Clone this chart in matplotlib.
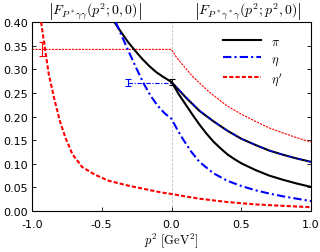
import matplotlib
matplotlib.use("Agg")
import matplotlib.pyplot as plt

plt.rcParams['mathtext.fontset'] = 'cm'
plt.rcParams['font.family'] = ['DejaVu Sans']

# pi, single virtual |F(p^2;0,0)|
pi_sv_x = [-0.41, -0.36, -0.31, -0.26, -0.21, -0.16, -0.11, -0.06, 0.0,
           0.05, 0.1, 0.15, 0.2, 0.25, 0.3, 0.35, 0.4, 0.45, 0.5, 0.6, 0.7, 0.8, 0.9, 1.0]
pi_sv_y = [0.400, 0.378, 0.357, 0.339, 0.322, 0.307, 0.294, 0.284, 0.273,
           0.248, 0.226, 0.204, 0.183, 0.164, 0.147, 0.133, 0.120, 0.110, 0.101, 0.087, 0.075, 0.066, 0.058, 0.051]
# pi, double virtual |F(p^2;p^2,0)|
pi_dv_x = [0.0, 0.1, 0.2, 0.3, 0.4, 0.5, 0.6, 0.7, 0.8, 0.9, 1.0]
pi_dv_y = [0.273, 0.241, 0.212, 0.19, 0.17, 0.153, 0.14, 0.128, 0.119, 0.111, 0.104]
# eta, single virtual
eta_sv_x = [-0.40, -0.35, -0.30, -0.25, -0.20, -0.15, -0.10, -0.05, 0.0,
            0.04, 0.08, 0.14, 0.2, 0.3, 0.4, 0.5, 0.6, 0.7, 0.8, 0.9, 1.0]
eta_sv_y = [0.400, 0.366, 0.333, 0.301, 0.270, 0.244, 0.223, 0.207, 0.195,
            0.173, 0.153, 0.126, 0.104, 0.080, 0.064, 0.053, 0.044, 0.037, 0.031, 0.026, 0.021]
# eta, double virtual
eta_dv_x = [0.0, 0.1, 0.2, 0.3, 0.4, 0.5, 0.6, 0.7, 0.8, 0.9, 1.0]
eta_dv_y = [0.273, 0.242, 0.213, 0.19, 0.17, 0.153, 0.14, 0.128, 0.119, 0.111, 0.104]
# eta', single virtual
etap_sv_x = [-0.935, -0.91, -0.88, -0.84, -0.80, -0.76, -0.71, -0.64, -0.55, -0.45, -0.3, -0.2, -0.086, 0.0, 0.2, 0.4, 0.6, 0.8, 1.0]
etap_sv_y = [0.40, 0.35, 0.29, 0.237, 0.19, 0.155, 0.12, 0.093, 0.077, 0.064, 0.053, 0.047, 0.04, 0.036, 0.026, 0.019, 0.014, 0.011, 0.008]
# eta', double virtual
etap_dv_x = [-1.0, 0.0, 0.036, 0.15, 0.27, 0.4, 0.5, 0.6, 0.7, 0.8, 0.9, 1.0]
etap_dv_y = [0.342, 0.342, 0.325, 0.285, 0.252, 0.222, 0.205, 0.19, 0.176, 0.165, 0.155, 0.146]

# physical points (p^2 = -m^2) with errors
pts_x = [0.0, -0.31, -0.928]
pts_y = [0.273, 0.272, 0.343]
pts_err = [0.007, 0.007, 0.015]
pts_col = ['black', 'blue', 'red']
# horizontal guide line from the eta point to p^2 = 0
guide_x0 = [-0.31]
guide_y = [0.272]

xticks = [-1.0, -0.5, 0.0, 0.5, 1.0]
xticklabels = ['-1.0', '-0.5', '0.0', '0.5', '1.0']
yticks = [0.0, 0.05, 0.10, 0.15, 0.20, 0.25, 0.30, 0.35, 0.40]
yticklabels = ['0.00', '0.05', '0.10', '0.15', '0.20', '0.25', '0.30', '0.35', '0.40']

fig = plt.figure(figsize=(3.2, 2.53), dpi=100)
ax = fig.add_axes([0.1, 0.162, 0.872, 0.747])

ax.axvline(0.0, color='#bbbbbb', lw=0.6, ls=(0, (3, 2)), zorder=1)

dashdot = (0, (4, 1.5, 1, 1.5))
dashed = (0, (2, 1))

# thin double-virtual curves
ax.plot(pi_dv_x, pi_dv_y, color='black', lw=1.5, zorder=2)
ax.plot(eta_dv_x, eta_dv_y, color='blue', lw=0.9, ls=dashdot, zorder=3)
ax.plot(etap_dv_x, etap_dv_y, color='red', lw=0.8, ls=dashed, zorder=2)
for x0, yv in zip(guide_x0, guide_y):
    ax.plot([x0, 0.0], [yv, yv], color='blue', lw=0.8, ls=dashdot, zorder=2)

# thick single-virtual curves
l1, = ax.plot(pi_sv_x, pi_sv_y, color='black', lw=1.5, zorder=4, label=r'$\pi$')
l2, = ax.plot(eta_sv_x, eta_sv_y, color='blue', lw=1.5, ls=dashdot, zorder=4, label=r'$\eta$')
l3, = ax.plot(etap_sv_x, etap_sv_y, color='red', lw=1.5, ls=dashed, zorder=4, label=r"$\eta'$")

for x, y, e, c in zip(pts_x, pts_y, pts_err, pts_col):
    ax.errorbar([x], [y], yerr=[e], fmt='none', ecolor=c, elinewidth=0.8, capsize=2, capthick=0.8, zorder=5)

ax.set_xlim(-1, 1)
ax.set_ylim(0, 0.4)
ax.set_xticks(xticks)
ax.set_xticklabels(xticklabels)
ax.set_yticks(yticks)
ax.set_yticklabels(yticklabels)
ax.tick_params(direction='in', length=3, width=0.6, labelsize=8, right=True, top=False)
ax.tick_params(axis='x', pad=6)
ax.tick_params(axis='y', pad=3)
for s in ax.spines.values():
    s.set_linewidth(0.8)

ax.set_xlabel(r'$p^2\ [\mathrm{GeV}^2]$', fontsize=9, labelpad=1)

fig.text(95/320, 1 - 11/253, r'$\left|F_{P^*\gamma\gamma}(p^2;0,0)\right|$', ha='center', va='center', fontsize=10)
fig.text(248/320, 1 - 11/253, r'$\left|F_{P^*\gamma^*\gamma}(p^2;p^2,0)\right|$', ha='center', va='center', fontsize=10)

ax.legend(handles=[l1, l2, l3], loc='upper right', bbox_to_anchor=(0.915, 0.96), frameon=False,
          fontsize=9, handlelength=3.0, handletextpad=0.8, labelspacing=0.3, borderaxespad=0)

fig.savefig('out.png', dpi=100)
